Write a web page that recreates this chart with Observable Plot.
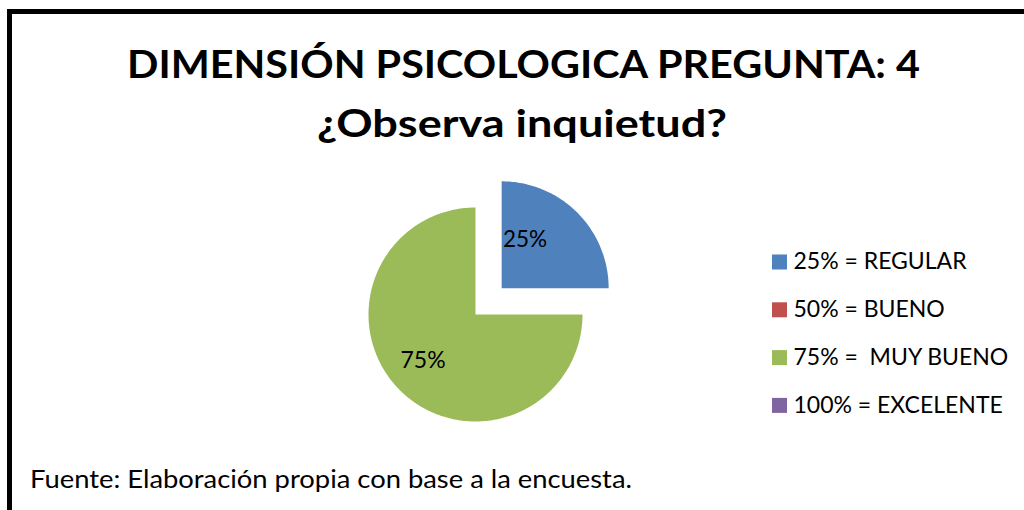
<!DOCTYPE html>
<html>
<head>
<meta charset="utf-8">
<script src="https://cdn.jsdelivr.net/npm/d3@7"></script>
<script src="https://cdn.jsdelivr.net/npm/@observablehq/plot@0.6"></script>
<style>
html, body { margin: 0; padding: 0; background: #fff; width: 1024px; height: 510px; overflow: hidden; }
#root { position: relative; width: 1024px; height: 510px; font-family: Lato, "Open Sans", sans-serif; color: #000; }
#frame { position: absolute; left: 7px; top: 9px; width: 1100px; height: 600px; border: 5.5px solid #000; box-sizing: border-box; }
.fit { position: absolute; white-space: nowrap; transform-origin: 0 0; }
.title { font-weight: bold; font-size: 38.5px; line-height: 38.5px; }
#caption { font-size: 25px; line-height: 25px; }
#chart { position: absolute; left: 0; top: 160px; }
#chart text { white-space: pre; }
</style>
</head>
<body>
<div id="root">
  <div id="frame"></div>
  <span id="t1" class="fit title"></span>
  <span id="t2" class="fit title"></span>
  <div id="chart"></div>
  <span id="caption" class="fit"></span>
</div>
<script>
// ---- data ----
const titleLines = ["DIMENSIÓN PSICOLOGICA PREGUNTA: 4", "¿Observa inquietud?"];
const captionText = "Fuente: Elaboración propia con base a la encuesta.";
const categories = ["REGULAR", "BUENO", "MUY BUENO", "EXCELENTE"];
const values = [25, 0, 75, 0];
const sliceLabels = ["25%", "", "75%", ""];
const legendLabels = ["25% = REGULAR", "50% = BUENO", "75% =  MUY BUENO", "100% = EXCELENTE"];
const colors = ["#4F81BD", "#C0504D", "#9BBB59", "#8064A2"];
const explodedCategory = "REGULAR";

// place a text block at left x, top y, stretched horizontally to a given width
function fit(id, text, left, top, width) {
  const el = document.getElementById(id);
  el.textContent = text;
  const w = el.getBoundingClientRect().width;
  el.style.left = left + "px";
  el.style.top = top + "px";
  el.style.transform = `scaleX(${width / w})`;
}
fit("t1", titleLines[0], 127, 44, 793);
fit("t2", titleLines[1], 317, 103, 410);
fit("caption", captionText, 30, 466, 602);

// ---- layout (pixel units of the svg) ----
const W = 1024, H = 290;
const cx = 475, cy = 154, R = 107, explode = 37;

const rows = categories.map((c, i) => ({cat: c, value: values[i], color: colors[i], label: sliceLabels[i], legend: legendLabels[i]}));
const arcs = d3.pie().sort(null).value(d => d.value)(rows);

const slicePts = [];
const labelsSmall = [], labelsBig = [];
for (const a of arcs) {
  if (a.data.value <= 0) continue;
  const mid = (a.startAngle + a.endAngle) / 2;
  const off = a.data.cat === explodedCategory ? explode : 0;
  const ox = cx + off * Math.sin(mid), oy = cy - off * Math.cos(mid);
  slicePts.push({cat: a.data.cat, color: a.data.color, x: ox, y: oy});
  const n = Math.max(2, Math.ceil((a.endAngle - a.startAngle) / (Math.PI / 180)));
  for (let k = 0; k <= n; k++) {
    const t = a.startAngle + (a.endAngle - a.startAngle) * k / n;
    slicePts.push({cat: a.data.cat, color: a.data.color, x: ox + R * Math.sin(t), y: oy - R * Math.cos(t)});
  }
  slicePts.push({cat: a.data.cat, color: a.data.color, x: ox, y: oy});
  const small = a.endAngle - a.startAngle < Math.PI;
  const frac = small ? 0.6 : 0.64;
  const lab = {text: a.data.label, x: ox + frac * R * Math.sin(mid), y: oy - frac * R * Math.cos(mid)};
  if (small) labelsSmall.push(lab); else labelsBig.push(lab);
}

const legendRows = rows.map((d, i) => ({...d, i}));
const legY = i => 101.5 + i * 47.8;

const chart = Plot.plot({
  width: W,
  height: H,
  margin: 0,
  style: {fontFamily: "Lato, 'Open Sans', sans-serif", background: "transparent", overflow: "visible"},
  x: {domain: [0, W], range: [0, W], axis: null},
  y: {domain: [0, H], range: [0, H], axis: null},
  color: {type: "identity"},
  marks: [
    Plot.line(slicePts, {x: "x", y: "y", z: "cat", fill: "color", stroke: "none", curve: "linear"}),
    Plot.text(labelsSmall, {x: "x", y: "y", text: "text", textAnchor: "end", dy: -3, fontSize: 22.5, fill: "#000"}),
    Plot.text(labelsBig, {x: "x", y: "y", text: "text", textAnchor: "middle", dx: -4, dy: -2, fontSize: 23, fill: "#000"}),
    Plot.dot(legendRows, {x: () => 779, y: d => legY(d.i), symbol: "square", r: 8.46, fill: "color", stroke: "none"}),
    Plot.text(legendRows, {x: () => 793, y: d => legY(d.i), text: "legend", textAnchor: "start", fontSize: 23, fill: "#000"})
  ]
});
document.getElementById("chart").appendChild(chart);
</script>
</body>
</html>
